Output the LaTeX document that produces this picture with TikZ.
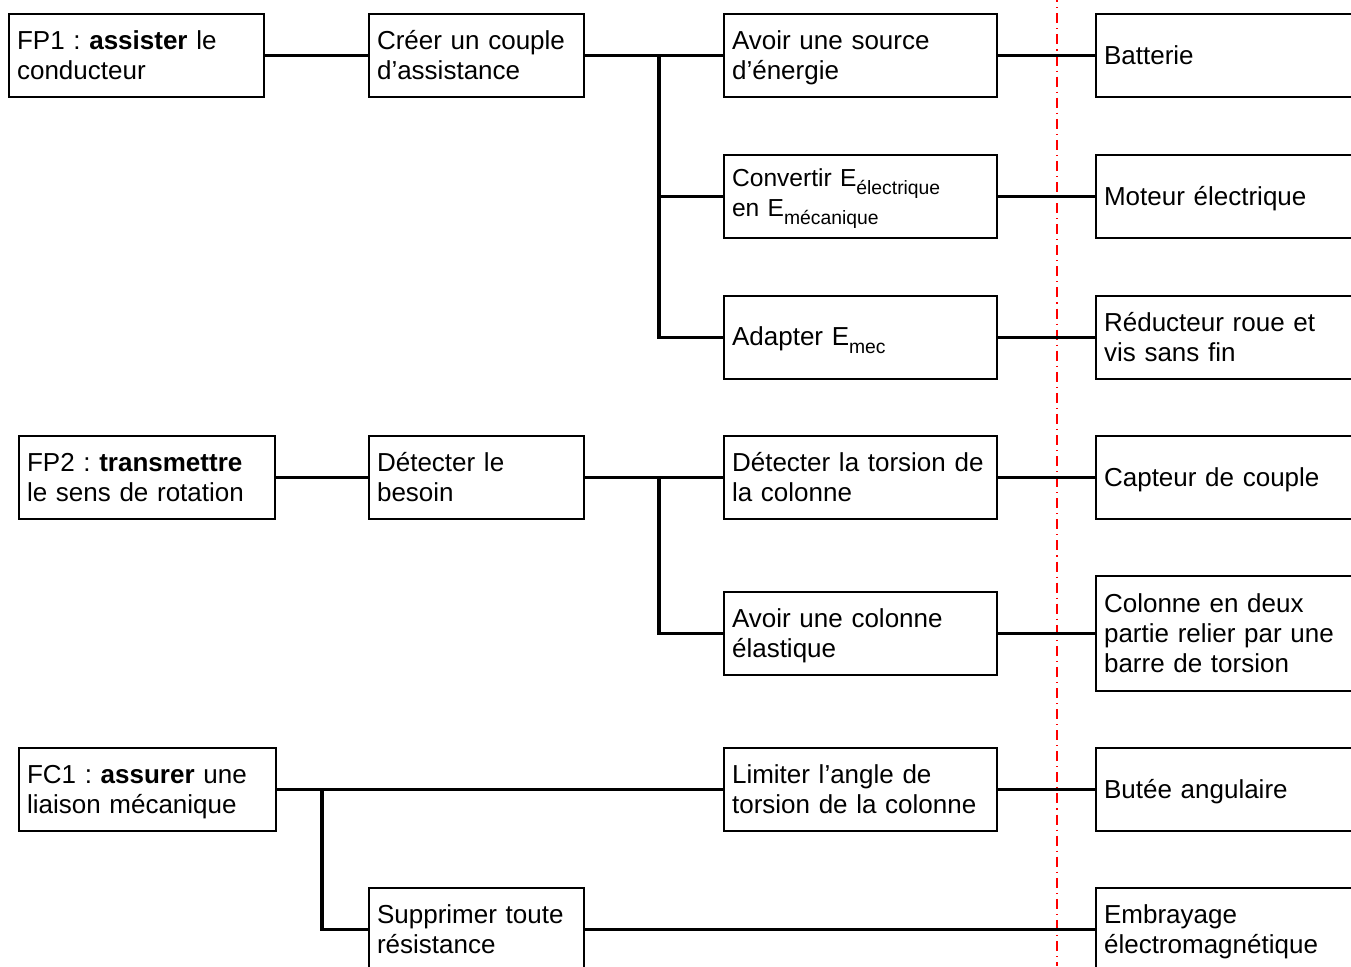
\documentclass[tikz,border=0pt]{standalone}
\usepackage{fontspec}
\setmainfont{Liberation Sans}
\frenchspacing
\tikzset{
  boite/.style={draw,line width=1.2pt,anchor=west,align=left,inner xsep=0.16cm,inner ysep=0pt,minimum height=1.66cm,font=\fontsize{14.8}{17.2}\selectfont,
    execute at begin node={\rule{0pt}{0.905em}},execute at end node={\rule[-0.212em]{0pt}{0.212em}}},
  liaison/.style={line width=1.9pt},
  axe/.style={red,line width=0.6pt,dash pattern=on 5.7pt off 2.85pt on 0.6pt off 2.85pt,dash phase=4.4pt}
}
\newcommand\indice[1]{\raisebox{-0.3em}{\fontsize{11}{12}\selectfont #1}}

\begin{document}
\begin{tikzpicture}[x=0.02cm,y=-0.02cm]
\clip (0,0) rectangle (1351,966);
\fill[white] (0,0) rectangle (1351,966);
\def\colB{368}
\def\colC{723}
\def\colD{1095}

\draw[axe] (1057,0) -- (1057,966);

\node (fp1) at (8,55.5) [boite,text width=4.78cm] {FP1 : \textbf{assister} le\\conducteur};
\node (creer) at (\colB,55.5) [boite,text width=3.98cm] {Créer un couple\\d’assistance};
\node (source) at (\colC,55.5) [boite,text width=5.14cm] {Avoir une source\\d’énergie};
\node (batt) at (\colD,55.5) [boite,text width=5.68cm] {Batterie};
\node (conv) at (\colC,196.5) [boite,text width=5.14cm,font=\fontsize{14}{16}\selectfont] {Convertir E\indice{électrique}\\en E\indice{mécanique}};
\node (moteur) at (\colD,196.5) [boite,text width=5.68cm] {Moteur électrique};
\node (adapt) at (\colC,337.5) [boite,text width=5.14cm] {Adapter E\indice{mec}};
\node (reduc) at (\colD,337.5) [boite,text width=5.68cm] {Réducteur roue et\\vis sans fin};
\coordinate (n1) at (659,55.5);
\draw[liaison] (fp1.east) -- (creer.west);
\draw[liaison] (creer.east) -- (source.west);
\draw[liaison] (n1) |- (conv.west);
\draw[liaison] (n1) |- (adapt.west);
\draw[liaison] (source.east) -- (batt.west);
\draw[liaison] (conv.east) -- (moteur.west);
\draw[liaison] (adapt.east) -- (reduc.west);

\node (fp2) at (18,477.5) [boite,text width=4.8cm] {FP2 : \textbf{transmettre}\\le sens de rotation};
\node (besoin) at (\colB,477.5) [boite,text width=3.98cm] {Détecter le\\besoin};
\node (torsion) at (\colC,477.5) [boite,text width=5.14cm] {Détecter la torsion de\\la colonne};
\node (capteur) at (\colD,477.5) [boite,text width=5.68cm] {Capteur de couple};
\node (elast) at (\colC,633.5) [boite,text width=5.14cm] {Avoir une colonne\\élastique};
\node (barre) at (\colD,633.5) [boite,text width=5.68cm,minimum height=2.3cm] {Colonne en deux\\partie relier par une\\barre de torsion};
\coordinate (n2) at (659,477.5);
\draw[liaison] (fp2.east) -- (besoin.west);
\draw[liaison] (besoin.east) -- (torsion.west);
\draw[liaison] (n2) |- (elast.west);
\draw[liaison] (torsion.east) -- (capteur.west);
\draw[liaison] (elast.east) -- (barre.west);

\node (fc1) at (18,789.5) [boite,text width=4.82cm] {FC1 : \textbf{assurer} une\\liaison mécanique};
\node (limiter) at (\colC,789.5) [boite,text width=5.14cm] {Limiter l’angle de\\torsion de la colonne};
\node (butee) at (\colD,789.5) [boite,text width=5.68cm] {Butée angulaire};
\node (suppr) at (\colB,929.5) [boite,text width=3.98cm] {Supprimer toute\\résistance};
\node (embr) at (\colD,929.5) [boite,text width=5.68cm] {Embrayage\\électromagnétique};
\coordinate (n3) at (322,789.5);
\draw[liaison] (fc1.east) -- (limiter.west);
\draw[liaison] (n3) |- (suppr.west);
\draw[liaison] (limiter.east) -- (butee.west);
\draw[liaison] (suppr.east) -- (embr.west);
\end{tikzpicture}
\end{document}
